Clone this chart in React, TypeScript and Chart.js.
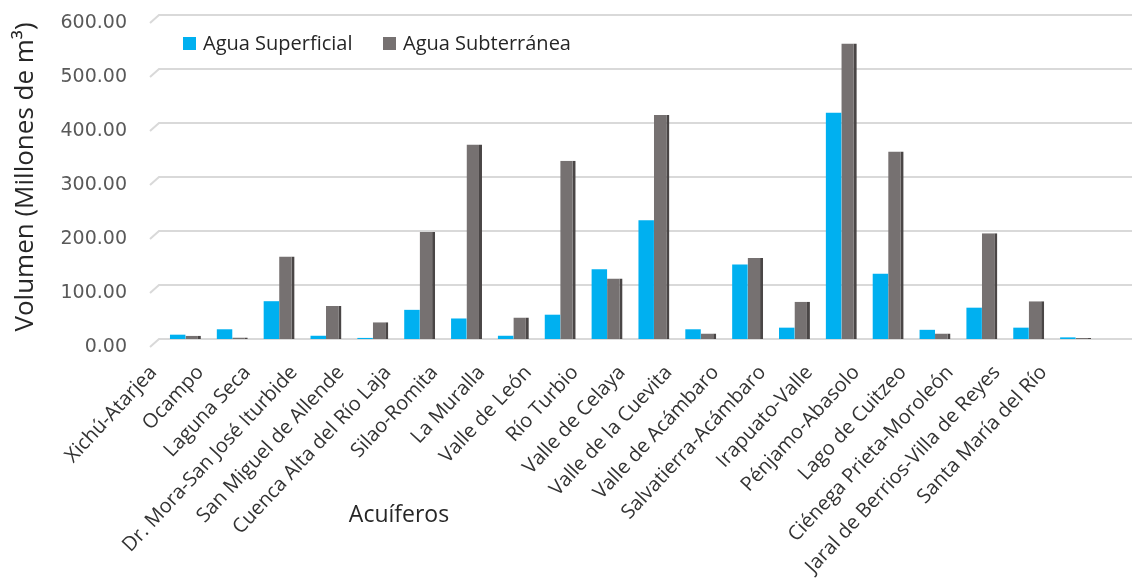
import React, { useEffect, useRef } from 'react';
import { Chart, registerables } from 'chart.js';

Chart.register(...registerables);

const categories = [
  'Xichú-Atarjea',
  'Ocampo',
  'Laguna Seca',
  'Dr. Mora-San José Iturbide',
  'San Miguel de Allende',
  'Cuenca Alta del Río Laja',
  'Silao-Romita',
  'La Muralla',
  'Valle de León',
  'Río Turbio',
  'Valle de Celaya',
  'Valle de la Cuevita',
  'Valle de Acámbaro',
  'Salvatierra-Acámbaro',
  'Irapuato-Valle',
  'Pénjamo-Abasolo',
  'Lago de Cuitzeo',
  'Ciénega Prieta-Moroleón',
  'Jaral de Berrios-Villa de Reyes',
  'Santa María del Río',
];

const aguaSuperficial = [8, 18, 70, 6, 2, 54, 38, 6, 45, 129, 220, 18, 138, 21, 419, 121, 17, 58, 21, 3];
const aguaSubterranea = [6, 3, 153, 61, 31, 198, 360, 40, 330, 112, 415, 10, 150, 69, 547, 347, 10, 196, 70, 2];

const seriesNames = ['Agua Superficial', 'Agua Subterránea'];
const seriesColors = ['#00B0F0', '#767171'];
const yAxisTitle = 'Volumen (Millones de m³)';
const xAxisTitle = 'Acuíferos';
const yMin = 0;
const yMax = 600;
const yStep = 100;

const gridPlugin = {
  id: 'extendedGrid',
  beforeDatasetsDraw(chart: any) {
    const { ctx, chartArea, scales } = chart;
    const y = scales.y;
    ctx.save();
    ctx.strokeStyle = '#d9d9d9';
    ctx.lineWidth = 2;
    y.ticks.forEach((t: any) => {
      const py = y.getPixelForValue(t.value);
      ctx.beginPath();
      ctx.moveTo(chartArea.left - 12, py + 8);
      ctx.lineTo(chartArea.left - 3, py);
      ctx.lineTo(chart.width, py);
      ctx.stroke();
    });
    ctx.restore();
  },
};

const legendPos = [
  { box: 183, text: 203 },
  { box: 383, text: 403 },
];

export default function App() {
  const ref = useRef<HTMLCanvasElement>(null);
  useEffect(() => {
    document.body.style.margin = '0';
    const chart = new Chart(ref.current!, {
      type: 'bar',
      data: {
        labels: categories,
        datasets: [
          {
            label: seriesNames[0],
            data: aguaSuperficial,
            backgroundColor: seriesColors[0],
            borderWidth: 0,
          },
          {
            label: seriesNames[1],
            data: aguaSubterranea,
            backgroundColor: seriesColors[1],
            borderColor: '#4a4646',
            borderWidth: { top: 0, right: 3, bottom: 0, left: 0 },
            borderSkipped: false,
          },
        ],
      },
      plugins: [gridPlugin],
      options: {
        animation: false,
        responsive: true,
        maintainAspectRatio: false,
        layout: { padding: { top: 15, right: 33, left: 0, bottom: 0 } },
        datasets: { bar: { categoryPercentage: 0.66, barPercentage: 1.0 } },
        plugins: {
          tooltip: { enabled: false },
          legend: { display: false },
        },
        scales: {
          x: {
            grid: { display: false, drawTicks: false },
            border: { display: false },
            ticks: {
              autoSkip: false,
              maxRotation: 47,
              minRotation: 47,
              labelOffset: -32,
              padding: 22,
              color: '#333333',
              font: { family: 'Open Sans', size: 20 },
            },
            afterFit: (s: any) => {
              s.height = 240;
            },
          },
          y: {
            min: yMin,
            max: yMax,
            grid: { display: false, drawTicks: false },
            border: { display: false },
            ticks: {
              stepSize: yStep,
              padding: 35,
              labelOffset: 8,
              color: '#595959',
              font: { family: 'DejaVu Sans', size: 19 },
              callback: (v: any) => Number(v).toFixed(2),
            },
            title: {
              display: true,
              text: yAxisTitle,
              color: '#262626',
              font: { family: 'Open Sans', size: 26 },
              padding: { top: 10, bottom: 0 },
            },
            afterFit: (s: any) => {
              s.width = 162;
              s.paddingTop = 10;
              s.paddingBottom = 10;
            },
          },
        },
      },
    });
    return () => chart.destroy();
  }, []);

  return (
    <div style={{ position: 'relative', width: 1132, height: 579, overflow: 'hidden', background: '#fff' }}>
      <canvas ref={ref} />
      {seriesNames.map((name, i) => (
        <React.Fragment key={name}>
          <div
            style={{
              position: 'absolute',
              left: legendPos[i].box,
              top: 37,
              width: 13,
              height: 13,
              background: seriesColors[i],
            }}
          />
          <div
            style={{
              position: 'absolute',
              left: legendPos[i].text,
              top: 43,
              transform: 'translateY(-50%)',
              fontFamily: 'Open Sans',
              fontSize: 20,
              color: '#262626',
              whiteSpace: 'nowrap',
              lineHeight: 1,
            }}
          >
            {name}
          </div>
        </React.Fragment>
      ))}
      <div
        style={{
          position: 'absolute',
          left: 399,
          top: 513,
          transform: 'translate(-50%, -50%)',
          fontFamily: 'Open Sans',
          fontSize: 23,
          color: '#262626',
          whiteSpace: 'nowrap',
        }}
      >
        {xAxisTitle}
      </div>
    </div>
  );
}
